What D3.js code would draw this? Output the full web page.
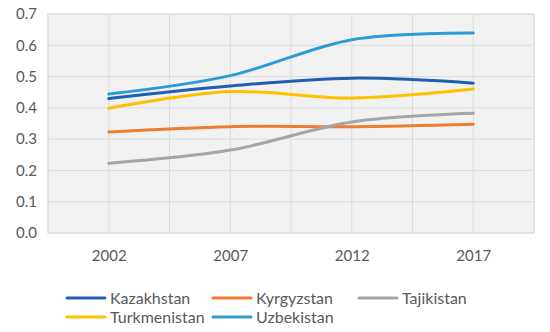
<!DOCTYPE html>
<html>
<head>
<meta charset="utf-8">
<script src="https://cdn.jsdelivr.net/npm/d3@7"></script>
<style>
  body { margin: 0; background: #fff; }
  svg text { font-family: Lato, "Open Sans", sans-serif; fill: #595959; }
</style>
</head>
<body>
<svg id="chart"></svg>
<script>
const years = [2002, 2007, 2012, 2017];
const yTicks = [0, 0.1, 0.2, 0.3, 0.4, 0.5, 0.6, 0.7];

const kazakhstan = [0.430, 0.470, 0.495, 0.479];
const kyrgyzstan = [0.323, 0.340, 0.340, 0.348];
const tajikistan = [0.223, 0.265, 0.355, 0.383];
const turkmenistan = [0.399, 0.452, 0.431, 0.460];
const uzbekistan = [0.444, 0.503, 0.618, 0.639];

const series = [
  { name: "Kazakhstan", values: kazakhstan, color: "#1F5FB0" },
  { name: "Kyrgyzstan", values: kyrgyzstan, color: "#ED7D31" },
  { name: "Tajikistan", values: tajikistan, color: "#A5A5A5" },
  { name: "Turkmenistan", values: turkmenistan, color: "#FFC000" },
  { name: "Uzbekistan", values: uzbekistan, color: "#2E9BD8" }
];

const width = 550, height = 332;
const margin = { top: 14, right: 16, bottom: 99, left: 48 };

const svg = d3.select("#chart")
  .attr("width", width)
  .attr("height", height);

// category axis: gridlines every half step between categories
const x = d3.scaleLinear()
  .domain([1999.5, 2019.5])
  .range([margin.left, width - margin.right]);

const y = d3.scaleLinear()
  .domain([0, 0.7])
  .range([height - margin.bottom, margin.top]);

svg.append("rect")
  .attr("x", x.range()[0])
  .attr("y", y.range()[1])
  .attr("width", x.range()[1] - x.range()[0])
  .attr("height", y.range()[0] - y.range()[1])
  .attr("fill", "#f2f2f2")
  .attr("stroke", "#dcdcdc");

const xGrid = d3.range(1999.5, 2019.6, 2.5);
svg.append("g")
  .selectAll("line")
  .data(xGrid)
  .join("line")
  .attr("x1", d => x(d)).attr("x2", d => x(d))
  .attr("y1", y(0)).attr("y2", y(0.7))
  .attr("stroke", "#dcdcdc");

svg.append("g")
  .selectAll("line")
  .data(yTicks)
  .join("line")
  .attr("x1", x.range()[0]).attr("x2", x.range()[1])
  .attr("y1", d => y(d)).attr("y2", d => y(d))
  .attr("stroke", "#dcdcdc");

const yAxis = svg.append("g")
  .attr("transform", `translate(${margin.left},0)`)
  .call(d3.axisLeft(y).tickValues(yTicks).tickFormat(d3.format(".1f")).tickSize(0).tickPadding(11));
yAxis.select(".domain").remove();
yAxis.selectAll("text").attr("font-size", 15).attr("fill", "#595959");

const xAxis = svg.append("g")
  .attr("transform", `translate(0,${y(0)})`)
  .call(d3.axisBottom(x).tickValues(years).tickFormat(d3.format("d")).tickSize(0).tickPadding(17));
xAxis.select(".domain").remove();
xAxis.selectAll("text").attr("font-size", 15).attr("fill", "#595959");

const line = d3.line()
  .x((d, i) => x(years[i]))
  .y(d => y(d))
  .curve(d3.curveCatmullRom.alpha(0));

svg.append("g")
  .selectAll("path")
  .data(series)
  .join("path")
  .attr("fill", "none")
  .attr("stroke", d => d.color)
  .attr("stroke-width", 3)
  .attr("stroke-linecap", "round")
  .attr("d", d => line(d.values));

// legend
const legendPos = [
  { x: 67, y: 298 }, { x: 213, y: 298 }, { x: 359, y: 298 },
  { x: 67, y: 317 }, { x: 213, y: 317 }
];
const legend = svg.append("g")
  .selectAll("g")
  .data(series)
  .join("g")
  .attr("transform", (d, i) => `translate(${legendPos[i].x},${legendPos[i].y})`);
legend.append("line")
  .attr("x1", 0).attr("x2", 38)
  .attr("stroke", d => d.color)
  .attr("stroke-width", 3)
  .attr("stroke-linecap", "round");
legend.append("text")
  .attr("x", 43)
  .attr("dy", "0.35em")
  .attr("font-size", 16)
  .text(d => d.name);
</script>
</body>
</html>
